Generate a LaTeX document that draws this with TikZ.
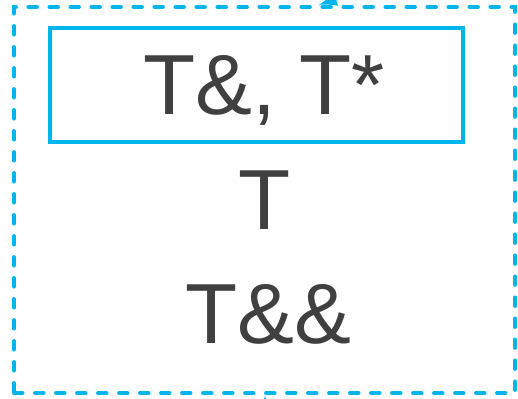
\documentclass[tikz,border=0pt]{standalone}
\usepackage{fontspec}
\setmainfont{Liberation Sans}
\usepackage{xcolor}
\usetikzlibrary{arrows.meta,positioning}
\definecolor{cyan}{HTML}{00B4EC}
\definecolor{ink}{HTML}{404040}

\begin{document}
\begin{tikzpicture}[x=0.75pt,y=-0.75pt,>=Latex]
\tikzset{frame/.style={draw=cyan,line width=2.8pt,dash pattern=on 6.5pt off 9.25pt,line cap=round,minimum width=375.75pt,minimum height=289.5pt,inner sep=0pt},
  box/.style={draw=cyan,line width=3pt,minimum width=309.75pt,minimum height=85.5pt,inner sep=0pt},
  big/.style={text=ink,font=\fontsize{64}{70}\selectfont,inner sep=0pt,anchor=base}}
\useasboundingbox (0,0) rectangle (518,399);
\node[frame] (outer) at (264.5,200) {};
\node[box] (inner) at (256.5,85) {};
\node[big] (pair) at (264,115) {T\&, T*};
\node[big] (single) at (265,230) {T};
\node[big] (double) at (268,343) {T\&\&};
% stubs of connectors that leave the picture
\coordinate (inA) at (350,-12);
\coordinate (inB) at (265,412);
\begin{scope}
\clip (0,0) rectangle (518,399);
\draw[cyan,line width=2.5pt,->] (inA) to[bend left=10] (outer.north -| 318,0);
\draw[cyan,line width=2.5pt,->] (inB) -- (outer.south -| 265,0);
\end{scope}
\end{tikzpicture}
\end{document}
